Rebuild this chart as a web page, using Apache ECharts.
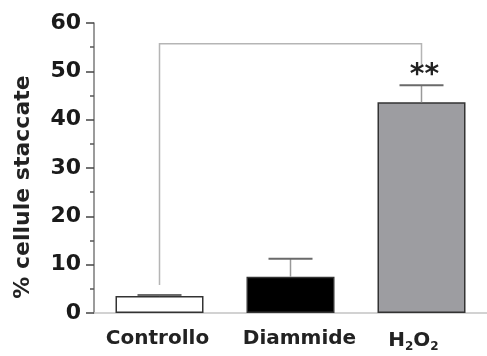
<!DOCTYPE html>
<html>
<head>
<meta charset="utf-8">
<script src="https://cdn.jsdelivr.net/npm/echarts@6/dist/echarts.min.js"></script>
<style>html,body{margin:0;padding:0;background:#fff}#c{width:487px;height:356px}</style>
</head>
<body>
<div id="c"></div>
<script>
var categories = ['Controllo', 'Diammide', 'H2O2'];
var means = [3.5, 7.5, 43.6];
var errorUpper = [3.7, 11.2, 47.1];
var barColors = ['#ffffff', '#000000', '#9d9da1'];
var yTicks = [0, 10, 20, 30, 40, 50, 60];
var bracketTop = 55.7;
var bracketLeftBottom = 5.8;
var bracketRightBottom = 51.3;
var starValue = 49.0;
var starText = '**';
var yTitle = '% cellule staccate';

var FONT = 'DejaVu Sans';
var chart = echarts.init(document.getElementById('c'), null, {renderer: 'canvas'});

var option = {
  animation: false,
  backgroundColor: '#ffffff',
  grid: {left: 94, right: -4, top: 23, bottom: 43},
  xAxis: {
    type: 'category',
    data: categories,
    axisLine: {show: true, lineStyle: {color: '#c4c4c4', width: 1.5}},
    axisTick: {show: false},
    axisLabel: {
      margin: 16,
      interval: 0,
      formatter: function (v, i) {
        if (v === 'H2O2') return '{sh|H}{sub|2}{b|O}{sub|2}{pad|}';
        if (i === 1) return '{d|' + v + '}';
        return '{c|' + v + '}';
      },
      rich: {
        c: {fontFamily: FONT, fontWeight: 'bold', fontSize: 20, color: '#222', padding: [0, 4, 0, 0]},
        d: {fontFamily: FONT, fontWeight: 'bold', fontSize: 20, color: '#222', padding: [0, 0, 0, 18]},
        sh: {fontFamily: FONT, fontWeight: 'bold', fontSize: 20, color: '#222'},
        b: {fontFamily: FONT, fontWeight: 'bold', fontSize: 20, color: '#222'},
        sub: {fontFamily: FONT, fontWeight: 'bold', fontSize: 12, color: '#222', verticalAlign: 'bottom', padding: [12, 0, 0, 0]},
        pad: {width: 16, fontSize: 12}
      }
    }
  },
  yAxis: {
    type: 'value',
    min: yTicks[0],
    max: yTicks[yTicks.length - 1],
    interval: 10,
    splitLine: {show: false},
    axisLine: {show: true, lineStyle: {color: '#7a7a7a', width: 1.5}},
    axisTick: {show: true, length: 8, lineStyle: {color: '#444', width: 1.5}},
    minorTick: {show: true, splitNumber: 2, length: 4, lineStyle: {color: '#555', width: 1.5}},
    axisLabel: {margin: 13, fontFamily: FONT, fontWeight: 'bold', fontSize: 22, color: '#1a1a1a'}
  },
  graphic: [{
    type: 'text',
    x: 23, y: 187,
    rotation: Math.PI / 2,
    style: {
      text: yTitle,
      fontFamily: FONT, fontWeight: 'bold', fontSize: 22, fill: '#222',
      align: 'center', verticalAlign: 'middle'
    }
  }],
  series: [
    {
      type: 'custom',
      z: 1,
      data: [[0]],
      renderItem: function (params, api) {
        var p1 = api.coord([0, bracketLeftBottom]);
        var p2 = api.coord([0, bracketTop]);
        var p3 = api.coord([2, bracketTop]);
        var p4 = api.coord([2, bracketRightBottom]);
        var ps = api.coord([2, starValue]);
        return {
          type: 'group',
          children: [
            {type: 'polyline', shape: {points: [p1, p2, p3, p4]}, style: {stroke: '#b5b5b5', lineWidth: 1.5, fill: null}},
            {type: 'text', x: ps[0] + 3, y: ps[1], style: {text: starText, fontFamily: FONT, fontWeight: 'bold', fontSize: 28, fill: '#222', align: 'center', verticalAlign: 'middle'}}
          ]
        };
      }
    },
    {
      type: 'bar',
      z: 2,
      barWidth: 88,
      data: means.map(function (v, i) {
        return {value: v, itemStyle: {color: barColors[i], borderColor: '#333', borderWidth: 1.5}};
      })
    },
    {
      type: 'custom',
      z: 3,
      data: means.map(function (v, i) { return [i, v, errorUpper[i]]; }),
      renderItem: function (params, api) {
        var i = api.value(0);
        var lo = api.coord([i, api.value(1)]);
        var hi = api.coord([i, api.value(2)]);
        var hw = 22;
        return {
          type: 'group',
          children: [
            {type: 'line', shape: {x1: lo[0], y1: lo[1], x2: hi[0], y2: hi[1]}, style: {stroke: '#999', lineWidth: 1.5}},
            {type: 'line', shape: {x1: hi[0] - hw, y1: hi[1], x2: hi[0] + hw, y2: hi[1]}, style: {stroke: '#6a6a6a', lineWidth: 2}}
          ]
        };
      }
    }
  ]
};
chart.setOption(option);
</script>
</body>
</html>
